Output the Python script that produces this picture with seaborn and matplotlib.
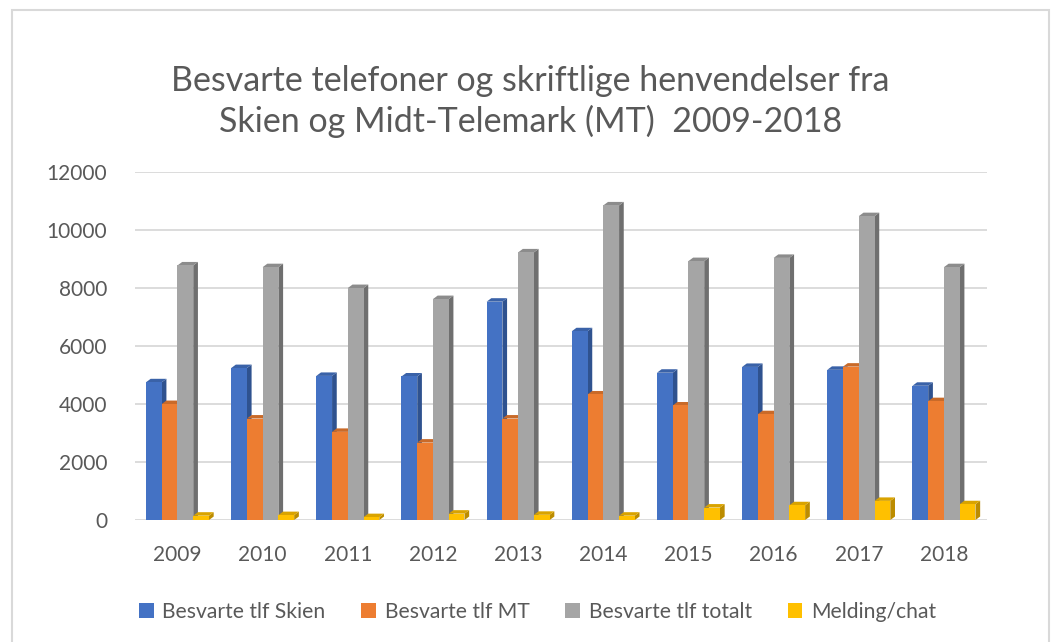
import matplotlib
matplotlib.use("Agg")
import matplotlib.pyplot as plt
from matplotlib.patches import Polygon, Rectangle
import pandas as pd
import seaborn as sns

# Data
years = ["2009", "2010", "2011", "2012", "2013", "2014", "2015", "2016", "2017", "2018"]
skien = [4750, 5240, 4970, 4950, 7530, 6510, 5080, 5280, 5180, 4630]
mt = [4000, 3500, 3040, 2670, 3500, 4330, 3950, 3650, 5290, 4100]
totalt = [8780, 8720, 8000, 7620, 9230, 10850, 8930, 9040, 10480, 8720]
chat = [150, 170, 100, 220, 180, 150, 430, 510, 660, 545]
series = ["Besvarte tlf Skien", "Besvarte tlf MT", "Besvarte tlf totalt", "Melding/chat"]
colors = ["#4472C4", "#ED7D31", "#A5A5A5", "#FFC000"]
side_colors = ["#2F528F", "#AE5A21", "#6F6F6F", "#BC8C00"]
top_colors = ["#3A62A8", "#C96A29", "#8C8C8C", "#D9A300"]

df = pd.DataFrame({
    "year": years * 4,
    "value": skien + mt + totalt + chat,
    "serie": [s for s in series for _ in years],
})

sns.set_theme(style="white")
plt.rcParams["font.family"] = ["Lato", "DejaVu Sans"]
txt = "#595959"

fig = plt.figure(figsize=(10.54, 6.42), dpi=100)
ax = fig.add_axes([0.128, 0.19, 0.808, 0.542])

sns.barplot(data=df, x="year", y="value", hue="serie", palette=colors,
            width=0.74, saturation=1, ax=ax, legend=False, errorbar=None)

ax.set_ylim(0, 12000)
ax.set_xlim(-0.5, 9.5)
ax.set_yticks(range(0, 12001, 2000))
ax.grid(axis="y", color="#d9d9d9", linewidth=1.3)
ax.set_axisbelow(True)
for sp in ax.spines.values():
    sp.set_visible(False)
ax.tick_params(axis="both", length=0, labelsize=15, labelcolor=txt)
ax.tick_params(axis="y", pad=20)
ax.tick_params(axis="x", pad=18)
ax.set_xlabel("")
ax.set_ylabel("")

# fake 3D depth: side and top faces derived from each bar patch
dx, dy = 0.055, 120
bars = [(p, i // len(years)) for i, p in enumerate(ax.patches[:len(years) * 4])]
bars.sort(key=lambda b: b[0].get_x())
for k, (p, s) in enumerate(bars):
    x0, w, h = p.get_x(), p.get_width(), p.get_height()
    z = 2 + k * 0.01
    p.set_zorder(z)
    p.set_linewidth(0)
    side = Polygon([(x0 + w, 0), (x0 + w + dx, dy), (x0 + w + dx, h + dy), (x0 + w, h)],
                   closed=True, facecolor=side_colors[s], edgecolor="none", zorder=z - 0.005)
    top = Polygon([(x0, h), (x0 + dx, h + dy), (x0 + w + dx, h + dy), (x0 + w, h)],
                  closed=True, facecolor=top_colors[s], edgecolor="none", zorder=z - 0.004)
    ax.add_patch(side)
    ax.add_patch(top)

fig.text(0.503, 0.842, "Besvarte telefoner og skriftlige henvendelser fra\nSkien og Midt-Telemark (MT)  2009-2018",
         ha="center", va="center", fontsize=24.5, color=txt, linespacing=1.3)

handles = [Rectangle((0, 0), 1, 1, facecolor=c, edgecolor="none") for c in colors]
fig.legend(handles, series, loc="center", bbox_to_anchor=(0.51, 0.047), ncol=4,
           frameon=False, fontsize=15.2, labelcolor=txt, handlelength=0.7,
           handleheight=0.7, handletextpad=0.4, columnspacing=1.7)

fig.patches.append(Rectangle((12 / 1054, -0.01), 1037 / 1054, 0.995, transform=fig.transFigure,
                             fill=False, edgecolor="#d9d9d9", linewidth=1.5))

fig.savefig("out.png", dpi=100)
